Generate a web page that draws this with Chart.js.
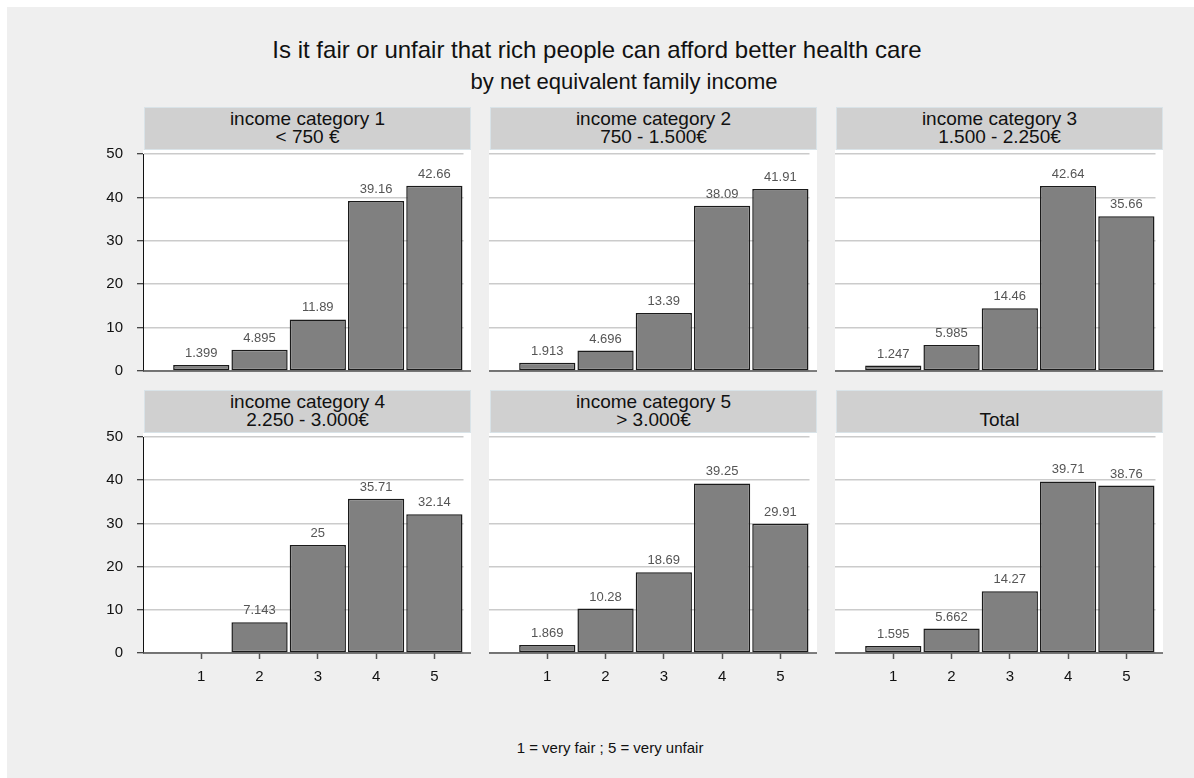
<!DOCTYPE html>
<html>
<head>
<meta charset="utf-8">
<script src="https://cdn.jsdelivr.net/npm/chart.js@4/dist/chart.umd.min.js"></script>
<style>
  body { margin: 0; background: #ffffff; font-family: "Liberation Sans", Arial, sans-serif; }
  #page { position: absolute; left: 7px; top: 7px; width: 1187px; height: 771px; background: #efefef; }
  .txt { position: absolute; text-align: center; color: #111; white-space: nowrap; }
  .hdr { position: absolute; box-sizing: border-box; height: 43px; border: 1px solid #d9e3e8;
         background: #d0d0d0; text-align: center; font-size: 19px; line-height: 18px; padding-top: 2px; color: #111; }
  canvas { position: absolute; }
</style>
</head>
<body>
<div id="page"></div>
<div class="txt" style="left:7px;width:1180px;top:38px;font-size:24px;line-height:24px;">Is it fair or unfair that rich people can afford better health care</div>
<div class="txt" style="left:34px;width:1180px;top:71px;font-size:22px;line-height:22px;">by net equivalent family income</div>
<div class="txt" style="left:20px;width:1180px;top:740px;font-size:15px;line-height:15px;">1 = very fair ; 5 = very unfair</div>
<div id="wrap"></div>
<script>
// answer scale 1 = very fair ... 5 = very unfair
const categories = [1, 2, 3, 4, 5];
const yTicks = [0, 10, 20, 30, 40, 50];

// percentages per income group
const income1 = [1.399, 4.895, 11.89, 39.16, 42.66];
const income2 = [1.913, 4.696, 13.39, 38.09, 41.91];
const income3 = [1.247, 5.985, 14.46, 42.64, 35.66];
const income4 = [null, 7.143, 25, 35.71, 32.14];
const income5 = [1.869, 10.28, 18.69, 39.25, 29.91];
const total = [1.595, 5.662, 14.27, 39.71, 38.76];

const panelLabels = [
  ['income category 1', '< 750 €'],
  ['income category 2', '750 - 1.500€'],
  ['income category 3', '1.500 - 2.250€'],
  ['income category 4', '2.250 - 3.000€'],
  ['income category 5', '> 3.000€'],
  ['', 'Total']
];
const panelData = [income1, income2, income3, income4, income5, total];

const FONT = '"Liberation Sans", Arial, sans-serif';
const lefts = [143, 489, 835];
const headerTops = [107, 390];

// white plot region + x axis line
const plotBg = {
  id: 'plotBg',
  beforeDraw(chart) {
    const { ctx, chartArea } = chart;
    ctx.save();
    ctx.fillStyle = '#ffffff';
    ctx.fillRect(chartArea.left, chartArea.top - 4, 328, chartArea.bottom - chartArea.top + 4);
    ctx.restore();
  },
  beforeDatasetsDraw(chart) {
    const { ctx, chartArea } = chart;
    ctx.save();
    ctx.strokeStyle = '#555555';
    ctx.lineWidth = 1.5;
    ctx.beginPath();
    ctx.moveTo(chartArea.left, chartArea.bottom);
    ctx.lineTo(chartArea.left + 328, chartArea.bottom);
    ctx.stroke();
    ctx.restore();
  }
};

// value labels above bars
const barLabels = {
  id: 'barLabels',
  afterDatasetsDraw(chart) {
    const { ctx } = chart;
    const ds = chart.data.datasets[0];
    const meta = chart.getDatasetMeta(0);
    ctx.save();
    ctx.fillStyle = '#555555';
    ctx.font = '13px ' + FONT;
    ctx.textAlign = 'center';
    ctx.textBaseline = 'alphabetic';
    meta.data.forEach((bar, i) => {
      const v = ds.data[i].y;
      if (v === null) return;
      ctx.fillText(String(v), bar.x, bar.y - 8);
    });
    ctx.restore();
  }
};

const wrap = document.getElementById('wrap');

panelData.forEach((values, p) => {
  const col = p % 3, row = Math.floor(p / 3);
  const L = lefts[col];
  const hTop = headerTops[row];

  const hdr = document.createElement('div');
  hdr.className = 'hdr';
  hdr.style.left = (L + 1) + 'px';
  hdr.style.top = hTop + 'px';
  hdr.style.width = '327px';
  hdr.innerHTML = (panelLabels[p][0] || '&nbsp;') + '<br>' + panelLabels[p][1];
  wrap.appendChild(hdr);

  const cv = document.createElement('canvas');
  const h = row === 0 ? 240 : 260;
  cv.width = 390; cv.height = h;
  cv.style.left = (L - 60) + 'px';
  cv.style.top = (hTop + 39) + 'px';
  cv.style.width = '390px'; cv.style.height = h + 'px';
  wrap.appendChild(cv);

  const isLeft = col === 0;
  const isBottom = row === 1;

  new Chart(cv.getContext('2d'), {
    type: 'bar',
    data: {
      datasets: [{
        data: values.map((v, i) => ({ x: categories[i], y: v })),
        backgroundColor: '#808080',
        borderColor: '#1a1a1a',
        borderWidth: 1.5,
        borderSkipped: false,
        categoryPercentage: 1,
        barPercentage: 0.965
      }]
    },
    options: {
      responsive: false,
      animation: false,
      devicePixelRatio: 1,
      layout: { padding: { top: 8, right: 9.5, left: 0, bottom: 0 } },
      plugins: { legend: { display: false }, tooltip: { enabled: false } },
      scales: {
        x: {
          type: 'linear',
          min: 0, max: 5.5,
          offset: false,
          afterBuildTicks: (s) => { s.ticks = categories.map(v => ({ value: v })); },
          afterFit: (s) => { s.height = isBottom ? 36 : 15; s.paddingLeft = 0; s.paddingRight = 0; },
          grid: { display: isBottom, drawOnChartArea: false, offset: false, drawTicks: isBottom, tickLength: 6, tickColor: '#555555', tickWidth: 1.5 },
          border: { display: false },
          ticks: { display: isBottom, color: '#111', font: { family: FONT, size: 15 }, padding: 9, maxRotation: 0 }
        },
        y: {
          min: 0, max: 50,
          afterBuildTicks: (s) => { s.ticks = yTicks.map(v => ({ value: v })); },
          afterFit: (s) => { s.width = 60; s.paddingTop = 0; s.paddingBottom = 0; },
          grid: { color: '#cbcbcb', lineWidth: 1.5, drawTicks: isLeft, tickLength: 6, tickColor: '#111', tickWidth: 1 },
          border: { display: isLeft, color: '#111', width: 1 },
          ticks: { display: isLeft, color: '#111', font: { family: FONT, size: 15 }, padding: 14 }
        }
      }
    },
    plugins: [plotBg, barLabels]
  });
});
</script>
</body>
</html>
